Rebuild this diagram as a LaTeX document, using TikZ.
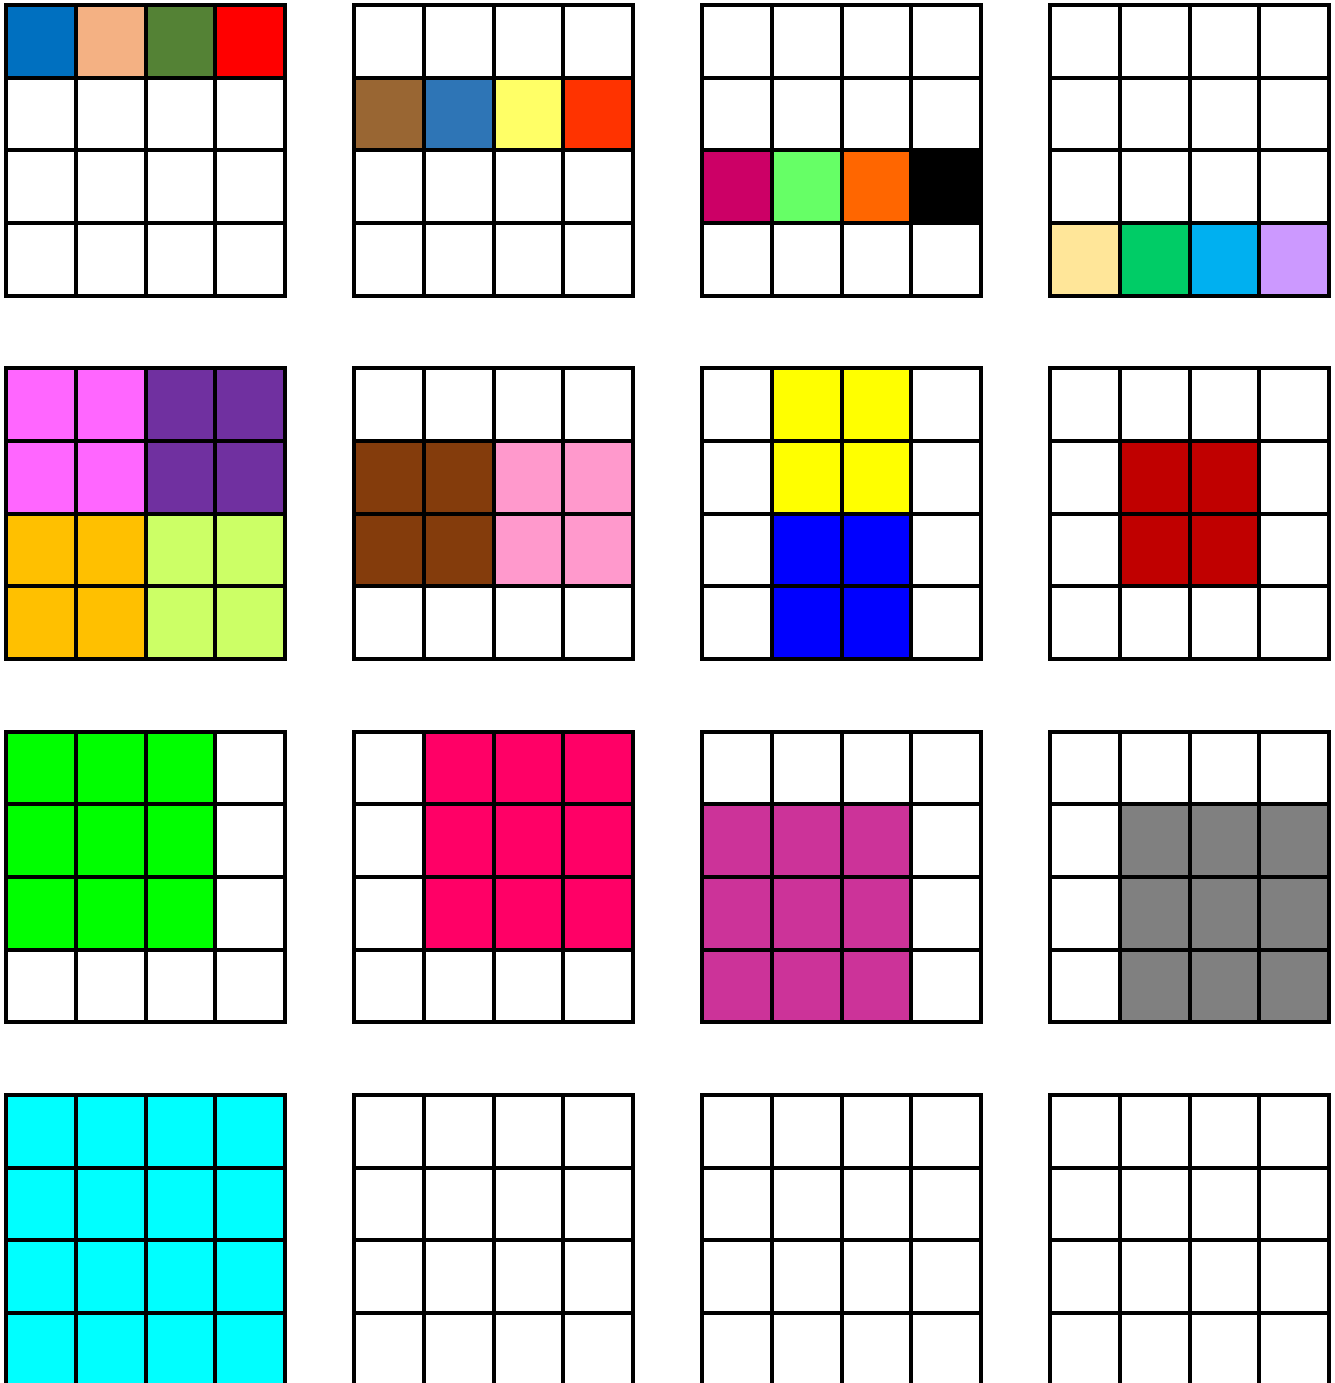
\documentclass[tikz,border=0pt]{standalone}
\usepackage{xcolor}

% cell colours
\definecolor{blueA}{HTML}{0070C0}
\definecolor{peach}{HTML}{F4B183}
\definecolor{olive}{HTML}{548235}
\definecolor{redA}{HTML}{FF0000}
\definecolor{tan}{HTML}{996633}
\definecolor{blueB}{HTML}{2E75B6}
\definecolor{lemon}{HTML}{FFFF66}
\definecolor{redB}{HTML}{FF3300}
\definecolor{berry}{HTML}{CC0066}
\definecolor{lime}{HTML}{66FF66}
\definecolor{orangeA}{HTML}{FF6600}
\definecolor{ink}{HTML}{000000}
\definecolor{cream}{HTML}{FFE699}
\definecolor{jade}{HTML}{00CC66}
\definecolor{sky}{HTML}{00B0F0}
\definecolor{lilac}{HTML}{CC99FF}
\definecolor{pinkA}{HTML}{FF66FF}
\definecolor{purple}{HTML}{7030A0}
\definecolor{amber}{HTML}{FFC000}
\definecolor{limeB}{HTML}{CCFF66}
\definecolor{brownA}{HTML}{843C0C}
\definecolor{pinkB}{HTML}{FF99CC}
\definecolor{yellowA}{HTML}{FFFF00}
\definecolor{blueC}{HTML}{0000FF}
\definecolor{darkred}{HTML}{C00000}
\definecolor{greenA}{HTML}{00FF00}
\definecolor{rose}{HTML}{FF0066}
\definecolor{orchid}{HTML}{CC3399}
\definecolor{grayA}{HTML}{808080}
\definecolor{cyanA}{HTML}{00FFFF}

\begin{document}
\begin{tikzpicture}[
        x=0.01cm, y=-0.01cm,
        gridline/.style={draw=black, line width=0.04cm, line cap=rect}
    ]
        \useasboundingbox (0,0) rectangle (1334,1383);
        \clip (0,0) rectangle (1334,1383);

        % coloured blocks: grid column/row, first cell, last cell, colour
        \foreach \i/\j/\ca/\ra/\cb/\rb/\col in {
            0/0/0/0/0/0/blueA, 0/0/1/0/1/0/peach, 0/0/2/0/2/0/olive, 0/0/3/0/3/0/redA,
            1/0/0/1/0/1/tan, 1/0/1/1/1/1/blueB, 1/0/2/1/2/1/lemon, 1/0/3/1/3/1/redB,
            2/0/0/2/0/2/berry, 2/0/1/2/1/2/lime, 2/0/2/2/2/2/orangeA, 2/0/3/2/3/2/ink,
            3/0/0/3/0/3/cream, 3/0/1/3/1/3/jade, 3/0/2/3/2/3/sky, 3/0/3/3/3/3/lilac,
            0/1/0/0/1/1/pinkA, 0/1/2/0/3/1/purple, 0/1/0/2/1/3/amber, 0/1/2/2/3/3/limeB,
            1/1/0/1/1/2/brownA, 1/1/2/1/3/2/pinkB,
            2/1/1/0/2/1/yellowA, 2/1/1/2/2/3/blueC,
            3/1/1/1/2/2/darkred,
            0/2/0/0/2/2/greenA, 1/2/1/0/3/2/rose, 2/2/0/1/2/3/orchid, 3/2/1/1/3/3/grayA,
            0/3/0/0/3/3/cyanA}
            \fill[\col] ({6+348*\i+69.75*\ca},{5+363.3*\j+72.7*\ra})
                rectangle ({6+348*\i+69.75*(\cb+1)},{5+363.3*\j+72.7*(\rb+1)});

        % the sixteen 4x4 grids
        \foreach \i in {0,...,3}
            \foreach \j in {0,...,3}
                \foreach \k in {0,...,4} {
                    \draw[gridline] ({6+348*\i+69.75*\k},{5+363.3*\j})
                        -- ({6+348*\i+69.75*\k},{5+363.3*\j+290.8});
                    \draw[gridline] ({6+348*\i},{5+363.3*\j+72.7*\k})
                        -- ({6+348*\i+279},{5+363.3*\j+72.7*\k});
                }
    \end{tikzpicture}
\end{document}
